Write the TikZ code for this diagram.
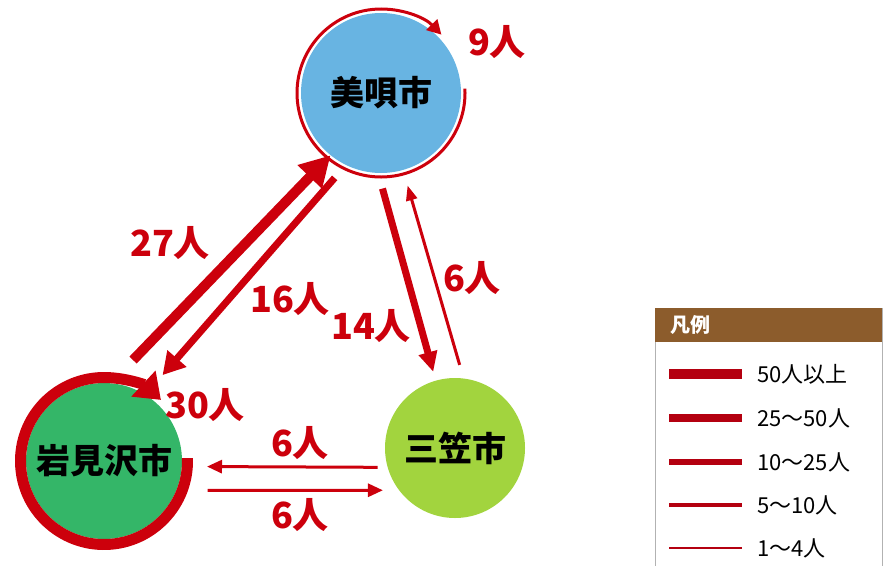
\documentclass[tikz,border=0pt]{standalone}
\usepackage{fontspec}
\setmainfont{Noto Sans CJK JP}
\usetikzlibrary{arrows.meta}
\definecolor{flowred}{RGB}{204,0,12}
\definecolor{keyred}{RGB}{180,0,16}
\definecolor{bibaiblue}{RGB}{104,180,226}
\definecolor{iwagreen}{RGB}{52,182,104}
\definecolor{mikasagreen}{RGB}{162,212,62}
\definecolor{legendbrown}{RGB}{140,92,44}

\begin{document}
\begin{tikzpicture}[x=1pt,y=1pt]
    \tikzstyle{every node}+=[inner sep=0pt]
    \tikzstyle{city}=[circle, font=\bfseries\fontsize{34}{34}\selectfont]
    \tikzstyle{flowlbl}=[text=flowred, font=\bfseries\fontsize{36}{36}\selectfont]
    \tikzstyle{flow}=[draw=flowred]
    \tikzstyle{keytext}=[anchor=west, font=\fontsize{22}{22}\selectfont]
    \useasboundingbox (0,0) rectangle (883,-565);
    \node [city, fill=bibaiblue, minimum size=160pt] (bibai) at (381,-93) {美唄市};
    \node [city, fill=iwagreen, minimum size=156pt] (iwa) at (104,-461) {岩見沢市};
    \node [city, fill=mikasagreen, minimum size=140pt] (mikasa) at (455,-448) {三笠市};
    \draw [flow, line width=3pt, -{Triangle[length=14pt,width=15pt]}] ([shift={(3:84)}]bibai.center) arc [start angle=3, end angle=-316, radius=84];
    \draw [flow, line width=11pt, -{Triangle[length=24pt,width=34pt]}] ([shift={(2:83.5)}]iwa.center) arc [start angle=2, end angle=-313, radius=83.5];
    \draw [flow, line width=10pt, -{Triangle[length=30pt,width=32pt]}, shorten <=32pt] (iwa.85) -- (bibai.231);
    \draw [flow, line width=7pt, -{Triangle[length=22pt,width=24pt]}, shorten <=17pt, shorten >=26pt] (bibai.244) -- (iwa.58);
    \draw [flow, line width=7pt, -{Triangle[length=20pt,width=18pt]}, shorten <=16pt, shorten >=9pt] (bibai.268) -- (mikasa.106);
    \draw [flow, line width=3pt, -{Triangle[length=15pt,width=11pt]}, shorten <=14pt, shorten >=16pt] (mikasa.83) -- (bibai.286);
    \draw [flow, line width=3pt, -{Triangle[length=15pt,width=13pt]}, shorten <=10pt, shorten >=25pt] (mikasa.196) -- (iwa.356);
    \draw [flow, line width=3pt, -{Triangle[length=15pt,width=13pt]}, shorten <=31pt, shorten >=16pt] (iwa.338) -- (mikasa.217);
    \node [flowlbl] (lblninebb) at (497,-42) {9人};
    \node [flowlbl] (lbliwabb) at (170,-243) {27人};
    \node [flowlbl] (lblbbiwa) at (290,-299) {16人};
    \node [flowlbl] (lblbbmk) at (371,-326) {14人};
    \node [flowlbl] (lblmkbb) at (472,-278) {6人};
    \node [flowlbl] (lbliwaiwa) at (205,-405) {30人};
    \node [flowlbl] (lblmkiwa) at (300,-443) {6人};
    \node [flowlbl] (lbliwamk) at (300,-515) {6人};
    \draw [gray!60] (655,-566) -- (655,-308) -- (882,-308) -- (882,-566);
    \fill [legendbrown] (655,-308) rectangle (882,-342);
    \node [anchor=west, text=white, font=\bfseries\fontsize{20}{20}\selectfont] (keytitle) at (670,-325) {凡例};
    \draw [keyred, line width=10pt] (669,-374) -- (742,-374);
    \node [keytext] (keyfifty) at (757,-374) {50人以上};
    \draw [keyred, line width=8pt] (669,-418) -- (742,-418);
    \node [keytext] (keytwentyfive) at (757,-418) {25～50人};
    \draw [keyred, line width=6pt] (669,-462) -- (742,-462);
    \node [keytext] (keyten) at (757,-462) {10～25人};
    \draw [keyred, line width=3.5pt] (669,-505) -- (742,-505);
    \node [keytext] (keyfive) at (757,-505) {5～10人};
    \draw [keyred, line width=1.5pt] (669,-548) -- (742,-548);
    \node [keytext] (keyone) at (757,-548) {1～4人};
\end{tikzpicture}
\end{document}
